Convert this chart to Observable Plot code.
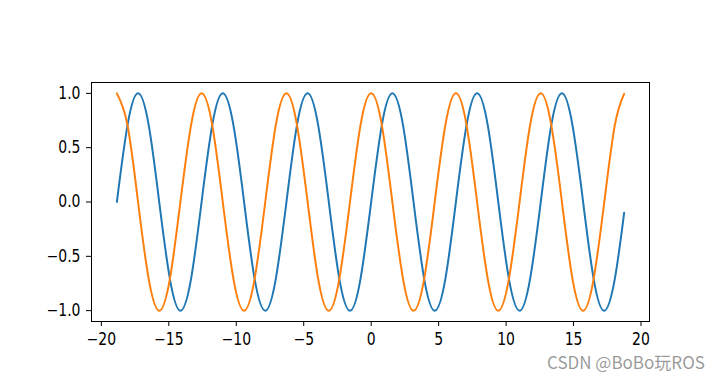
<!DOCTYPE html>
<html>
<head>
<meta charset="utf-8">
<script src="https://cdn.jsdelivr.net/npm/d3@7"></script>
<script src="https://cdn.jsdelivr.net/npm/@observablehq/plot@0.6"></script>
<style>
  html, body { margin: 0; padding: 0; background: #fff; }
  #wrap { position: relative; width: 722px; height: 386px; }
  #wm { position: absolute; left: 547px; top: 349px; font: 17px "Noto Sans CJK SC", "DejaVu Sans", sans-serif; color: rgba(120,120,120,0.75); white-space: nowrap; }
</style>
</head>
<body>
<div id="wrap"><div id="wm">CSDN @BoBo玩ROS</div></div>
<script>
const xs = [-18.85, -18.06, -17.28, -16.49, -15.71, -14.92, -14.14, -13.35,
  -12.57, -11.78, -11.00, -10.21, -9.42, -8.64, -7.85, -7.07,
  -6.28, -5.50, -4.71, -3.93, -3.14, -2.36, -1.57, -0.79,
  0, 0.79, 1.57, 2.36, 3.14, 3.93, 4.71, 5.50,
  6.28, 7.07, 7.85, 8.64, 9.42, 10.21, 11.00, 11.78,
  12.57, 13.35, 14.14, 14.92, 15.71, 16.49, 17.28, 18.06, 18.75];
const sinVals = [0, 0.707, 1, 0.707, 0, -0.707, -1, -0.707,
  0, 0.707, 1, 0.707, 0, -0.707, -1, -0.707,
  0, 0.707, 1, 0.707, 0, -0.707, -1, -0.707,
  0, 0.707, 1, 0.707, 0, -0.707, -1, -0.707,
  0, 0.707, 1, 0.707, 0, -0.707, -1, -0.707,
  0, 0.707, 1, 0.707, 0, -0.707, -1, -0.707, -0.10];
const cosVals = [1, 0.707, 0, -0.707, -1, -0.707, 0, 0.707,
  1, 0.707, 0, -0.707, -1, -0.707, 0, 0.707,
  1, 0.707, 0, -0.707, -1, -0.707, 0, 0.707,
  1, 0.707, 0, -0.707, -1, -0.707, 0, 0.707,
  1, 0.707, 0, -0.707, -1, -0.707, 0, 0.707,
  1, 0.707, 0, -0.707, -1, -0.707, 0, 0.707, 0.995];
const xTicks = [-20, -15, -10, -5, 0, 5, 10, 15, 20];
const yTicks = [-1.0, -0.5, 0.0, 0.5, 1.0];

const sinData = xs.map((x, i) => ({x, y: sinVals[i]}));
const cosData = xs.map((x, i) => ({x, y: cosVals[i]}));

const chart = Plot.plot({
  width: 722,
  height: 386,
  marginLeft: 91,
  marginRight: 73,
  marginTop: 82,
  marginBottom: 65,
  style: { fontFamily: "DejaVu Sans", fontSize: "14px", color: "#000", background: "#fff" },
  x: { domain: [-20.73, 20.63] },
  y: { domain: [-1.1, 1.1] },
  marks: [
    Plot.line(sinData, {x: "x", y: "y", stroke: "#1f77b4", strokeWidth: 2, curve: "natural"}),
    Plot.line(cosData, {x: "x", y: "y", stroke: "#ff7f0e", strokeWidth: 2, curve: "natural"}),
    Plot.axisX({ticks: xTicks, tickSize: 5, tickPadding: 6, tickFormat: d3.format("d"), label: null, fill: "#000", stroke: "#000"}),
    Plot.axisY({ticks: yTicks, tickSize: 5, tickPadding: 6, tickFormat: d3.format(".1f"), label: null, fill: "#000", stroke: "#000"}),
    Plot.frame({stroke: "#000", strokeWidth: 1})
  ]
});
chart.querySelectorAll('g[aria-label$="tick label"] text').forEach(t => {
  const tr = t.getAttribute("transform") || "";
  t.setAttribute("transform", tr + " scale(1,1.22)");
});
document.getElementById("wrap").prepend(chart);
</script>
</body>
</html>
